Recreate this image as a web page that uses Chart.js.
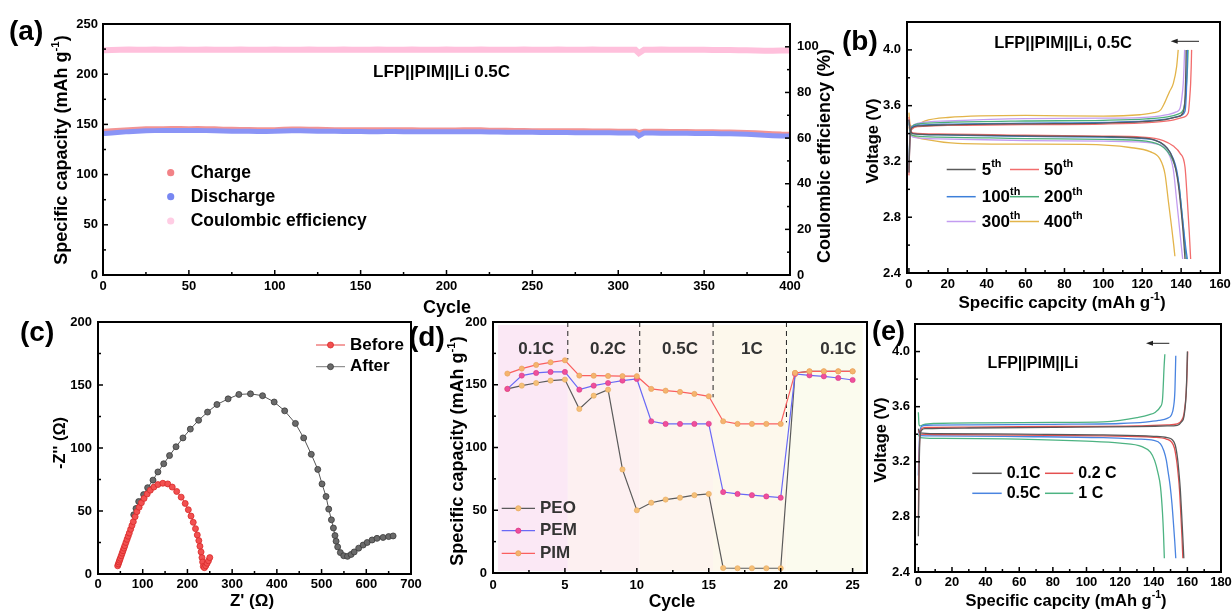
<!DOCTYPE html>
<html>
<head>
<meta charset="utf-8">
<title>LFP||PIM||Li electrochemical performance</title>
<script src="https://cdn.jsdelivr.net/npm/chart.js@4.4.1/dist/chart.umd.min.js"></script>
<style>
  html, body { margin:0; padding:0; background:#fff; }
  #wrap { position:relative; width:1232px; height:612px; overflow:hidden; background:#fff; }
  #wrap canvas { position:absolute; }
</style>
</head>
<body>
<div id="wrap">
  <canvas id="pa" width="850" height="320" style="left:0px;top:0px"></canvas>
  <canvas id="pb" width="392" height="320" style="left:840px;top:0px"></canvas>
  <canvas id="pc" width="430" height="312" style="left:0px;top:300px"></canvas>
  <canvas id="pd" width="480" height="312" style="left:400px;top:300px"></canvas>
  <canvas id="pe" width="382" height="312" style="left:850px;top:300px"></canvas>
</div>
<script>
// ================= DATA =================
// (a) long cycling, LFP||PIM||Li 0.5C
const aCycle = [1,5,10,15,20,25,30,35,40,45,50,55,60,65,70,75,80,85,90,95,100,105,110,115,120,125,130,135,140,145,150,155,160,165,170,175,180,185,190,195,200,205,210,215,220,225,230,235,240,245,250,255,260,265,270,275,280,285,290,295,300,305,310,312,315,320,325,330,335,340,345,350,355,360,365,370,375,380,385,390,395,400];
const aCharge = [143.5,144.0,144.5,145.0,145.5,145.8,146.0,146.0,146.2,146.2,
  146.0,146.2,146.0,145.8,145.5,145.3,145.2,145.2,145.0,145.0,
  145.0,145.3,145.6,145.6,145.5,145.3,145.2,145.0,145.0,145.0,
  145.0,144.8,144.8,145.0,145.0,144.8,144.8,144.6,144.6,144.6,
  144.6,144.6,144.8,144.8,144.8,144.5,144.4,144.3,144.2,144.2,
  144.0,144.0,144.0,143.9,143.8,143.8,143.8,143.7,143.6,143.6,
  143.5,143.5,143.4,142.0,143.4,143.4,143.4,143.3,143.2,143.2,
  143.0,143.0,142.9,142.8,142.6,142.5,142.3,142.0,141.5,141.0,
  140.6,140.4];
const aDischarge = [141.0,141.5,142.2,142.8,143.2,143.6,143.8,143.9,144.0,144.0,
  143.9,144.0,143.8,143.6,143.4,143.2,143.1,143.1,143.0,143.0,
  143.1,143.4,143.6,143.6,143.5,143.3,143.2,143.1,143.0,143.0,
  142.9,142.8,142.8,142.9,142.9,142.8,142.7,142.6,142.6,142.6,
  142.6,142.6,142.7,142.7,142.7,142.5,142.4,142.3,142.2,142.2,
  142.1,142.0,142.0,141.9,141.9,141.8,141.8,141.7,141.6,141.6,
  141.5,141.5,141.4,138.5,141.4,141.4,141.3,141.3,141.2,141.1,
  141.0,141.0,140.9,140.8,140.6,140.4,140.2,139.8,139.2,138.8,
  138.5,138.4];
const aCE = [98.5,98.6,98.7,98.8,98.7,98.7,98.8,98.7,98.7,98.8,
  98.7,98.7,98.8,98.7,98.7,98.7,98.8,98.7,98.7,98.7,
  98.8,98.7,98.7,98.7,98.8,98.7,98.7,98.7,98.8,98.7,
  98.7,98.7,98.8,98.7,98.7,98.7,98.8,98.7,98.7,98.7,
  98.8,98.7,98.7,98.7,98.8,98.7,98.7,98.7,98.7,98.8,
  98.7,98.7,98.7,98.8,98.7,98.7,98.7,98.8,98.7,98.7,
  98.7,98.7,98.7,97.2,98.7,98.7,98.8,98.7,98.7,98.7,
  98.7,98.7,98.6,98.6,98.6,98.5,98.5,98.4,98.3,98.3,
  98.4,98.4];
const aXTicks = [0,50,100,150,200,250,300,350,400];
const aXMinor = [25,75,125,175,225,275,325,375];
const aYTicks = [0,50,100,150,200,250];
const aYMinor = [25,75,125,175,225];
const aY2Ticks = [0,20,40,60,80,100];
const aY2Minor = [10,30,50,70,90];
const aSeries = ['Charge','Discharge','Coulombic efficiency'];

// (b) charge/discharge profiles at 0.5C  [capacity, voltage]
const bCycles = ['5','50','100','200','300','400'];
const b5Chg = [[0,3.12],[0.5,3.36],[1.5,3.44],[5,3.455],[20,3.462],[60,3.47],[100,3.475],[120,3.485],[132,3.50],[138,3.52],[141,3.55],[142,3.65],[142.3,3.78],[142.5,3.9],[142.6,4.0]];
const b5Dis = [[0,3.5],[0.6,3.43],[2,3.40],[15,3.392],[60,3.383],[100,3.378],[118,3.37],[126,3.355],[131,3.32],[134.5,3.26],[137,3.16],[138.7,3.02],[140,2.85],[141.1,2.68],[142,2.5]];
const b50Chg = [[0,3.1],[0.5,3.35],[1.5,3.43],[5,3.45],[20,3.458],[60,3.464],[100,3.468],[125,3.48],[135,3.495],[140.5,3.515],[143.7,3.55],[144.4,3.65],[144.9,3.76],[145.2,3.88],[145.4,4.0]];
const b50Dis = [[0,3.52],[0.6,3.44],[2,3.405],[15,3.398],[60,3.388],[100,3.382],[120,3.375],[130.8,3.35],[136,3.31],[139.4,3.26],[142,3.16],[143.2,2.92],[144.2,2.69],[144.6,2.58],[144.9,2.5]];
const b100Chg = [[0,3.12],[0.5,3.37],[1.5,3.445],[5,3.46],[20,3.468],[60,3.475],[100,3.48],[122,3.49],[133,3.505],[139,3.525],[142,3.56],[142.6,3.66],[142.9,3.78],[143.1,3.9],[143.2,4.0]];
const b100Dis = [[0,3.5],[0.6,3.43],[2,3.40],[15,3.39],[60,3.38],[100,3.374],[124,3.36],[132.5,3.30],[136,3.22],[137.7,3.14],[139,3.02],[140.3,2.85],[141.5,2.69],[142.5,2.57],[143.2,2.5]];
const b200Chg = [[0,3.15],[0.5,3.38],[1.5,3.45],[5,3.47],[20,3.48],[60,3.49],[100,3.495],[122,3.505],[133,3.52],[138.5,3.54],[141.1,3.57],[142.2,3.66],[142.8,3.76],[143.3,3.88],[143.6,4.0]];
const b200Dis = [[0,3.48],[0.6,3.42],[2,3.385],[15,3.375],[60,3.364],[100,3.358],[122,3.345],[131,3.3],[135,3.23],[137.4,3.14],[139,3.02],[140.2,2.86],[141.3,2.7],[142.1,2.58],[142.7,2.5]];
const b300Chg = [[0,3.18],[0.5,3.39],[1.5,3.45],[5,3.475],[20,3.49],[60,3.507],[100,3.51],[125,3.52],[133,3.535],[137.5,3.555],[139.4,3.58],[140.4,3.66],[141.1,3.76],[141.5,3.88],[141.8,4.0]];
const b300Dis = [[0,3.47],[0.6,3.41],[2,3.375],[15,3.362],[60,3.35],[100,3.345],[118,3.34],[125.7,3.33],[133.4,3.26],[136,3.14],[137.7,2.92],[138.6,2.8],[139.4,2.69],[140.2,2.58],[140.8,2.5]];
const b400Chg = [[0,3.55],[0.6,3.46],[2,3.45],[8,3.49],[20,3.515],[60,3.53],[100,3.525],[118.8,3.535],[126,3.55],[129.5,3.57],[131.5,3.62],[134,3.7],[136,3.76],[137.7,3.88],[138.5,4.0]];
const b400Dis = [[0,3.45],[0.6,3.41],[3,3.38],[10,3.355],[25,3.33],[60,3.324],[90,3.322],[113.7,3.30],[124,3.27],[129,3.22],[131.7,3.11],[133.4,2.92],[135.1,2.73],[136.2,2.6],[136.8,2.52]];
const bXTicks = [0,20,40,60,80,100,120,140,160];
const bXMinor = [10,30,50,70,90,110,130,150];
const bYTicks = [2.4,2.8,3.2,3.6,4.0];
const bYMinor = [2.6,3.0,3.4,3.8];

// (c) EIS before / after cycling
const cBeforeX = [44,45.5,47,48.5,50,52,54,56,58,60,62.5,65,67.5,70,73,76,79,83,87,92,97,103,110,117,125,134,145,156,166,176,186,195,202,208,213,218,222,225.5,228,230.5,232.5,234,235.5,238,241,244,247,250];
const cBeforeY = [6.5,8,9.5,11,12.5,14.5,16.5,18.5,20.5,22.5,25,27.5,30,32.5,35.5,38.5,41.5,45.5,49.5,53,56.5,60,63.5,66.5,69,71,72,71.5,69,65.5,61,56,51,46,41,36,31,26.5,22,17.5,13,9.5,6,5,6.5,8.5,10.5,13];
const cAfterX = [80,85,91,102,111,123,134,147,160,174.5,190,206.5,225,245,266,291,315,341,368,394,417.5,441.5,460,477,491.5,501,510,516,522,526.5,530,532.5,536,542,549.5,558,566,573,583,593,602,613,624,637.5,650,660];
const cAfterY = [47,52,57.5,63,68.5,74.5,81,87.5,94,101,108,115,122,128.5,134.5,139,142.5,143,141.5,136.5,129.5,119.5,108,95,83,71.5,61.5,51.5,43,36.5,30.5,26,21.5,17,14.5,14,15.5,17.5,20.5,23,25,27,28.3,29,29.7,30.2];
const cXTicks = [0,100,200,300,400,500,600,700];
const cXMinor = [50,150,250,350,450,550,650];
const cYTicks = [0,50,100,150,200];
const cYMinor = [25,75,125,175];

// (d) rate performance
const dCycle = [1,2,3,4,5,6,7,8,9,10,11,12,13,14,15,16,17,18,19,20,21,22,23,24,25];
const dPEO = [146.7,149.3,151.4,153.3,154.1,130.7,141.3,146.1,82.5,50,56,58.5,60,62,63,4,3.8,3.8,3.8,3.8,159.4,160.7,160.7,160.7,160.7];
const dPEM = [146.7,157.3,159.4,160.2,160.2,146.1,149.3,151.4,153.3,154.6,120.9,118.8,118.8,118.8,118.9,64.5,63,62,61,60,158.6,157.5,156.7,155.4,153.8];
const dPIM = [158.9,162.9,165.8,167.9,169.5,157.3,157.2,157,156.9,156.8,146.7,145.3,144.3,142.7,140.8,120.9,118.8,118.8,118.8,118.8,159.4,160.7,160.7,160.7,160.7];
const dRates = ['0.1C','0.2C','0.5C','1C','0.1C'];
const dRateCenter = [3,8,13,18,24];
const dRateBounds = [0.35,5.2,10.2,15.3,20.4,25.7];
const dDashX = [5.2,10.2,15.3,20.4];
const dDashLow = [170,158,140,120];
const dXTicks = [0,5,10,15,20,25];
const dXMinor = [2.5,7.5,12.5,17.5,22.5];
const dYTicks = [0,50,100,150,200];
const dYMinor = [25,75,125,175];
const dSeries = ['PEO','PEM','PIM'];

// (e) profiles at different rates
const eRates = ['0.1C','0.2 C','0.5C','1 C'];
const e01Chg = [[0,2.66],[0.4,3.1],[1,3.38],[2,3.43],[4,3.44],[30,3.445],[80,3.45],[130,3.455],[148,3.46],[154,3.465],[156.5,3.49],[158,3.53],[159.2,3.68],[159.7,3.84],[160,4.0]];
const e01Dis = [[0,3.44],[1,3.41],[10,3.405],[60,3.40],[110,3.395],[140,3.385],[148,3.375],[151,3.36],[152.8,3.32],[154.2,3.22],[155,3.12],[155.8,3.0],[156.6,2.82],[157.3,2.65],[157.9,2.5]];
const e02Chg = [[0,2.8],[0.4,3.2],[1,3.4],[2.5,3.445],[5,3.45],[30,3.452],[80,3.456],[130,3.46],[148,3.468],[154,3.475],[156.5,3.5],[158,3.55],[159.3,3.7],[159.8,3.85],[160.2,4.0]];
const e02Dis = [[0,3.43],[1,3.40],[10,3.398],[60,3.393],[110,3.388],[140,3.378],[147.5,3.365],[150.5,3.345],[152.3,3.3],[153.7,3.2],[154.6,3.1],[155.3,3.0],[156.1,2.82],[156.8,2.65],[157.3,2.5]];
const e05Chg = [[0,3.1],[0.4,3.3],[1,3.43],[2.5,3.46],[5,3.465],[30,3.468],[80,3.472],[120,3.478],[135,3.488],[143,3.5],[148,3.515],[150.5,3.54],[151.8,3.6],[152.6,3.72],[153.1,3.97]];
const e05Dis = [[0,3.42],[1,3.39],[10,3.388],[60,3.383],[110,3.375],[130,3.365],[140,3.355],[144,3.33],[146,3.28],[147.5,3.21],[148.5,3.13],[149.8,3.02],[150.8,2.9],[151.8,2.74],[152.5,2.62],[153.1,2.5]];
const e1Chg = [[0,3.56],[0.4,3.47],[1,3.46],[3,3.47],[10,3.478],[40,3.482],[80,3.486],[110,3.49],[120,3.5],[130,3.52],[137,3.54],[141,3.56],[144,3.6],[145.2,3.65],[146.2,3.9],[146.6,3.98]];
const e1Dis = [[0,3.4],[1,3.375],[10,3.37],[60,3.365],[100,3.35],[120,3.335],[133,3.31],[138,3.27],[140.5,3.21],[142.5,3.12],[144,3.02],[145.2,2.83],[145.8,2.68],[146.3,2.5]];
const eXTicks = [0,20,40,60,80,100,120,140,160,180];
const eXMinor = [10,30,50,70,90,110,130,150,170];
const eYTicks = [2.4,2.8,3.2,3.6,4.0];
const eYMinor = [2.6,3.0,3.4,3.8];

// ================= STYLE / HELPERS =================
const FAM = '"Liberation Sans", Arial, Helvetica, sans-serif';
Chart.defaults.font.family = FAM;
Chart.defaults.font.weight = 'bold';
Chart.defaults.font.size = 13;
Chart.defaults.color = '#000';

const bColors = ['#5a5a5a','#f26d6d','#3d7fd9','#4caf7a','#c39cf0','#e3b44a'];
const eColors = ['#5a5a5a','#e45050','#4a84e0','#4db382'];

function rich(ctx, segs, x, y, size, o) {
  o = o || {};
  const parts = segs.map(s => s.charAt(0) === '^' ? {t: s.slice(1), sup: true} : {t: s, sup: false});
  let w = 0;
  for (const p of parts) {
    p.fs = p.sup ? size * 0.64 : size;
    ctx.font = 'bold ' + p.fs + 'px ' + FAM;
    p.w = ctx.measureText(p.t).width; w += p.w;
  }
  ctx.save();
  ctx.translate(x, y);
  if (o.rot) ctx.rotate(o.rot);
  ctx.fillStyle = o.color || '#000';
  ctx.textBaseline = 'middle'; ctx.textAlign = 'left';
  let cx = o.align === 'left' ? 0 : (o.align === 'right' ? -w : -w / 2);
  for (const p of parts) {
    ctx.font = 'bold ' + p.fs + 'px ' + FAM;
    ctx.fillText(p.t, cx, p.sup ? -size * 0.36 : 0);
    cx += p.w;
  }
  ctx.restore();
}

function seg(ctx, x1, y1, x2, y2) { ctx.beginPath(); ctx.moveTo(x1, y1); ctx.lineTo(x2, y2); ctx.stroke(); }

function dot(ctx, x, y, r, fill, stroke) {
  ctx.beginPath(); ctx.arc(x, y, r, 0, Math.PI * 2);
  ctx.fillStyle = fill; ctx.fill();
  if (stroke) { ctx.strokeStyle = stroke; ctx.lineWidth = 0.8; ctx.stroke(); }
}

function arrow(ctx, xFrom, xTo, y) {
  ctx.strokeStyle = '#222'; ctx.lineWidth = 1;
  seg(ctx, xFrom, y, xTo + 5, y);
  ctx.fillStyle = '#222';
  ctx.beginPath(); ctx.moveTo(xTo, y); ctx.lineTo(xTo + 7, y - 2.5); ctx.lineTo(xTo + 7, y + 2.5); ctx.closePath(); ctx.fill();
}

function axis(pos, min, max, ticks, size, pad, fmt) {
  const horiz = pos === 'bottom' || pos === 'top';
  return {
    type: 'linear', position: pos, min: min, max: max, bounds: 'data',
    grid: {display: false, drawTicks: false}, border: {display: false},
    ticks: {padding: pad, autoSkip: false, maxRotation: 0, minRotation: 0, color: '#000',
      font: {family: FAM, size: 13, weight: 'bold'}, callback: (v) => fmt(v)},
    afterBuildTicks: (s) => { s.ticks = ticks.map(v => ({value: v})); },
    afterFit: (s) => {
      if (horiz) s.height = size; else s.width = size;
      s.paddingLeft = 0; s.paddingRight = 0; s.paddingTop = 0; s.paddingBottom = 0;
    }
  };
}
const fInt = v => String(v);
const f1 = v => v.toFixed(1);

function deco(spec) {
  return {
    id: 'deco',
    beforeDatasetsDraw(chart) {
      if (spec.under) { const ctx = chart.ctx; ctx.save(); spec.under(chart, ctx); ctx.restore(); }
    },
    afterDraw(chart) {
      const ctx = chart.ctx, ca = chart.chartArea;
      ctx.save();
      ctx.strokeStyle = '#000'; ctx.lineWidth = 1.5;
      spec.tk.forEach(t => {
        const s = chart.scales[t.id];
        [[t.major, 5], [t.minor || [], 3]].forEach(([vals, len]) => {
          vals.forEach(v => {
            const p = s.getPixelForValue(v);
            if (t.side === 'bottom') seg(ctx, p, ca.bottom, p, ca.bottom - len);
            else if (t.side === 'left') seg(ctx, ca.left, p, ca.left + len, p);
            else seg(ctx, ca.right, p, ca.right - len, p);
          });
        });
      });
      ctx.lineWidth = 2;
      ctx.strokeRect(ca.left, ca.top, ca.right - ca.left, ca.bottom - ca.top);
      if (spec.overC) spec.overC(chart, ctx);
      ctx.translate(-spec.ox, -spec.oy);
      spec.texts.forEach(t => rich(ctx, t.s, t.x, t.y, t.size, t));
      if (spec.over) spec.over(chart, ctx);
      ctx.restore();
    }
  };
}

function make(id, spec, datasets, scales, padTop, padRight) {
  return new Chart(document.getElementById(id), {
    type: 'scatter',
    data: {datasets: datasets},
    options: {
      responsive: false, animation: false, devicePixelRatio: 1, events: [],
      layout: {autoPadding: false, padding: {top: padTop, right: padRight, left: 0, bottom: 0}},
      plugins: {legend: {display: false}, tooltip: {enabled: false}},
      scales: scales
    },
    plugins: [deco(spec)]
  });
}
const pairs = arr => arr.map(p => ({x: p[0], y: p[1]}));
const zip = (xs, ys) => xs.map((x, i) => ({x: x, y: ys[i]}));
const R90 = -Math.PI / 2;

// ================= (a) =================
const aStyle = [
  {c: 'rgba(138,148,246,1)', w: 5},
  {c: 'rgba(242,148,148,1)', w: 4.5},
  {c: 'rgba(255,192,220,1)', w: 6}
];
make('pa', {
  ox: 0, oy: 0,
  tk: [{id: 'x', side: 'bottom', major: aXTicks, minor: aXMinor},
       {id: 'y', side: 'left', major: aYTicks, minor: aYMinor},
       {id: 'y2', side: 'right', major: aY2Ticks, minor: aY2Minor}],
  texts: [
    {s: ['(a)'], x: 9, y: 32, size: 28, align: 'left'},
    {s: ['Specific capacity (mAh g', '^-1', ')'], x: 62, y: 150, size: 18, rot: R90},
    {s: ['Coulombic efficiency (%)'], x: 825, y: 156, size: 18, rot: R90},
    {s: ['Cycle'], x: 447, y: 308, size: 18},
    {s: ['LFP||PIM||Li 0.5C'], x: 373, y: 72, size: 17, align: 'left'},
    {s: [aSeries[0]], x: 190.7, y: 172.7, size: 17.5, align: 'left'},
    {s: [aSeries[1]], x: 190.7, y: 196.7, size: 17.5, align: 'left'},
    {s: [aSeries[2]], x: 190.7, y: 221, size: 17.5, align: 'left'}
  ],
  over: (chart, ctx) => {
    dot(ctx, 170.7, 172.7, 3.6, 'rgb(242,130,135)');
    dot(ctx, 170.7, 196.7, 3.6, 'rgb(120,135,242)');
    dot(ctx, 170.7, 221, 3.6, 'rgb(255,205,228)');
  }
}, [
  {label: aSeries[1], data: zip(aCycle, aDischarge), yAxisID: 'y', showLine: true, borderColor: aStyle[0].c, borderWidth: aStyle[0].w, pointRadius: 0, borderCapStyle: 'round', tension: 0},
  {label: aSeries[0], data: zip(aCycle, aCharge), yAxisID: 'y', showLine: true, borderColor: aStyle[1].c, borderWidth: aStyle[1].w, pointRadius: 0, borderCapStyle: 'round', tension: 0},
  {label: aSeries[2], data: zip(aCycle, aCE), yAxisID: 'y2', showLine: true, borderColor: aStyle[2].c, borderWidth: aStyle[2].w, pointRadius: 0, borderCapStyle: 'round', tension: 0}
], {
  x: axis('bottom', 0, 400, aXTicks, 45, 4, fInt),
  y: axis('left', 0, 250, aYTicks, 103, 5, fInt),
  y2: axis('right', 0, 110, aY2Ticks, 60, 7, fInt)
}, 24, 0);

// ================= (b) =================
const bSets = [[b5Chg, b5Dis], [b50Chg, b50Dis], [b100Chg, b100Dis], [b200Chg, b200Dis], [b300Chg, b300Dis], [b400Chg, b400Dis]];
const bDatasets = [];
bSets.forEach((pr, i) => {
  pr.forEach((curve, j) => {
    bDatasets.push({label: bCycles[i] + 'th' + (j ? ' discharge' : ' charge'), data: pairs(curve), showLine: true,
      borderColor: bColors[i], borderWidth: 1.3, pointRadius: 0, cubicInterpolationMode: 'monotone'});
  });
});
make('pb', {
  ox: 840, oy: 0,
  tk: [{id: 'x', side: 'bottom', major: bXTicks, minor: bXMinor},
       {id: 'y', side: 'left', major: bYTicks, minor: bYMinor}],
  texts: [
    {s: ['(b)'], x: 842, y: 42, size: 28, align: 'left'},
    {s: ['Voltage (V)'], x: 873, y: 141, size: 16.5, rot: R90},
    {s: ['Specific capcity (mAh g', '^-1', ')'], x: 1062, y: 303, size: 17},
    {s: ['LFP||PIM||Li, 0.5C'], x: 1063, y: 43.3, size: 16.5}
  ],
  over: (chart, ctx) => {
    arrow(ctx, 1199, 1170.7, 41.3);
    const rows = [169.5, 196.7, 221.5];
    const cols = [[946.7, 975.7, 981.7], [1010, 1039, 1044]];
    bCycles.forEach((lab, i) => {
      const r = rows[Math.floor(i / 2)], c = cols[i % 2];
      ctx.strokeStyle = bColors[i]; ctx.lineWidth = 1.5;
      seg(ctx, c[0], r, c[1], r);
      rich(ctx, [lab, '^th'], c[2], r + 1, 17, {align: 'left'});
    });
  }
}, bDatasets, {
  x: axis('bottom', -1, 160, bXTicks, 47, 4, fInt),
  y: axis('left', 2.4, 4.2, bYTicks, 67, 6, f1)
}, 22, 12);

// ================= (c) =================
make('pc', {
  ox: 0, oy: 300,
  tk: [{id: 'x', side: 'bottom', major: cXTicks, minor: cXMinor},
       {id: 'y', side: 'left', major: cYTicks, minor: cYMinor}],
  texts: [
    {s: ['(c)'], x: 20, y: 333, size: 28, align: 'left'},
    {s: ["-Z'' (\u03A9)"], x: 60, y: 443, size: 16.5, rot: R90},
    {s: ["Z' (\u03A9)"], x: 252, y: 601.5, size: 17},
    {s: ['Before'], x: 350, y: 345, size: 17, align: 'left'},
    {s: ['After'], x: 350, y: 366.7, size: 17, align: 'left'}
  ],
  over: (chart, ctx) => {
    ctx.lineWidth = 1;
    ctx.strokeStyle = '#e84040'; seg(ctx, 316, 345, 345, 345);
    dot(ctx, 330.5, 345, 3, '#f25050', '#d82a2a');
    ctx.strokeStyle = '#555'; seg(ctx, 316, 366.7, 345, 366.7);
    dot(ctx, 330.5, 366.7, 3, '#6a6a6a', '#3a3a3a');
  }
}, [
  {label: 'Before', data: zip(cBeforeX, cBeforeY), showLine: true, borderColor: '#e84040', borderWidth: 1,
    pointRadius: 3, pointBackgroundColor: '#f25050', pointBorderColor: '#d82a2a', pointBorderWidth: 0.8},
  {label: 'After', data: zip(cAfterX, cAfterY), showLine: true, borderColor: '#555', borderWidth: 1,
    pointRadius: 3, pointBackgroundColor: '#6a6a6a', pointBorderColor: '#3a3a3a', pointBorderWidth: 0.8}
], {
  x: axis('bottom', 0, 700, cXTicks, 38, 3, fInt),
  y: axis('left', 0, 200, cYTicks, 98, 6, fInt)
}, 22, 19);

// ================= (d) =================
const bandColors = ['#fbe8f5', '#fdf0f1', '#fdf4ee', '#fdf8ec', '#fbfbee'];
const dStyle = {
  PEO: {line: '#5a5a5a', pt: 'rgb(245,192,120)', ptb: 'rgb(232,170,95)'},
  PEM: {line: 'rgb(105,105,245)', pt: '#ef4f9c', ptb: '#d93a86'},
  PIM: {line: 'rgb(250,95,95)', pt: 'rgb(245,180,110)', ptb: 'rgb(232,160,90)'}
};
const dDatasets = [
  {label: 'PIM', data: zip(dCycle, dPIM), showLine: true, borderColor: dStyle.PIM.line, borderWidth: 1.2,
    pointRadius: 2.6, pointBackgroundColor: dStyle.PIM.pt, pointBorderColor: dStyle.PIM.ptb, pointBorderWidth: 0.6},
  {label: 'PEM', data: zip(dCycle, dPEM), showLine: true, borderColor: dStyle.PEM.line, borderWidth: 1.2,
    pointRadius: 2.6, pointBackgroundColor: dStyle.PEM.pt, pointBorderColor: dStyle.PEM.ptb, pointBorderWidth: 0.6},
  {label: 'PEO', data: zip(dCycle, dPEO), showLine: true, borderColor: dStyle.PEO.line, borderWidth: 1.2,
    pointRadius: 2.6, pointBackgroundColor: dStyle.PEO.pt, pointBorderColor: dStyle.PEO.ptb, pointBorderWidth: 0.6}
];
dDashX.forEach((x, i) => {
  dDatasets.push({label: 'rate switch ' + (i + 1), data: [{x: x, y: 200}, {x: x, y: dDashLow[i]}], showLine: true,
    borderColor: '#222', borderWidth: 1, borderDash: [5, 4], pointRadius: 0});
});
make('pd', {
  ox: 400, oy: 300,
  tk: [{id: 'x', side: 'bottom', major: dXTicks, minor: dXMinor},
       {id: 'y', side: 'left', major: dYTicks, minor: dYMinor}],
  under: (chart, ctx) => {
    const xs = chart.scales.x, ca = chart.chartArea;
    for (let i = 0; i < 5; i++) {
      const x1 = xs.getPixelForValue(dRateBounds[i]), x2 = xs.getPixelForValue(dRateBounds[i + 1]);
      ctx.fillStyle = bandColors[i];
      ctx.fillRect(x1, ca.top + 3, x2 - x1, ca.bottom - ca.top - 5);
    }
  },
  overC: (chart, ctx) => {
    const xs = chart.scales.x, ys = chart.scales.y;
    dRates.forEach((r, i) => rich(ctx, [r], xs.getPixelForValue(dRateCenter[i]), ys.getPixelForValue(178.5), 17, {color: '#333'}));
  },
  texts: [
    {s: ['(d)'], x: 409, y: 338, size: 28, align: 'left'},
    {s: ['Specific capacity (mAh g', '^-1', ')'], x: 458, y: 451, size: 18, rot: R90},
    {s: ['Cycle'], x: 672, y: 602.5, size: 17.5},
    {s: [dSeries[0]], x: 540, y: 508.3, size: 17, align: 'left', color: '#333'},
    {s: [dSeries[1]], x: 540, y: 530.7, size: 17, align: 'left', color: '#333'},
    {s: [dSeries[2]], x: 540, y: 553.3, size: 17, align: 'left', color: '#333'}
  ],
  over: (chart, ctx) => {
    const ys = [508.3, 530.7, 553.3];
    dSeries.forEach((n, i) => {
      ctx.strokeStyle = dStyle[n].line; ctx.lineWidth = 1.2;
      seg(ctx, 501.7, ys[i], 535, ys[i]);
      dot(ctx, 518.3, ys[i], 2.6, dStyle[n].pt, dStyle[n].ptb);
    });
  }
}, dDatasets, {
  x: axis('bottom', 0, 26, dXTicks, 39, 5, fInt),
  y: axis('left', 0, 200, dYTicks, 93, 6, fInt)
}, 22, 13);

// ================= (e) =================
const eSets = [[e01Chg, e01Dis], [e02Chg, e02Dis], [e05Chg, e05Dis], [e1Chg, e1Dis]];
const eDatasets = [];
eSets.forEach((pr, i) => {
  pr.forEach((curve, j) => {
    eDatasets.push({label: eRates[i] + (j ? ' discharge' : ' charge'), data: pairs(curve), showLine: true,
      borderColor: eColors[i], borderWidth: 1.3, pointRadius: 0, cubicInterpolationMode: 'monotone'});
  });
});
make('pe', {
  ox: 850, oy: 300,
  tk: [{id: 'x', side: 'bottom', major: eXTicks, minor: eXMinor},
       {id: 'y', side: 'left', major: eYTicks, minor: eYMinor}],
  texts: [
    {s: ['(e)'], x: 872, y: 333, size: 27, align: 'left'},
    {s: ['Voltage (V)'], x: 881.7, y: 440, size: 16.5, rot: R90},
    {s: ['Specific capcity (mAh g', '^-1', ')'], x: 1066, y: 601.5, size: 16.5},
    {s: ['LFP||PIM||Li'], x: 1033, y: 364, size: 16}
  ],
  over: (chart, ctx) => {
    arrow(ctx, 1169.3, 1146, 343.3);
    const rows = [473.3, 493.3];
    const cols = [[972.3, 1001.7, 1006.7], [1045, 1073.3, 1078.3]];
    eRates.forEach((lab, i) => {
      const r = rows[Math.floor(i / 2)], c = cols[i % 2];
      ctx.strokeStyle = eColors[i]; ctx.lineWidth = 1.5;
      seg(ctx, c[0], r, c[1], r);
      rich(ctx, [lab], c[2], r, 16, {align: 'left'});
    });
  }
}, eDatasets, {
  x: axis('bottom', -2, 180, eXTicks, 40, 3, fInt),
  y: axis('left', 2.4, 4.2, eYTicks, 65, 5, f1)
}, 24, 11);
</script>
</body>
</html>
